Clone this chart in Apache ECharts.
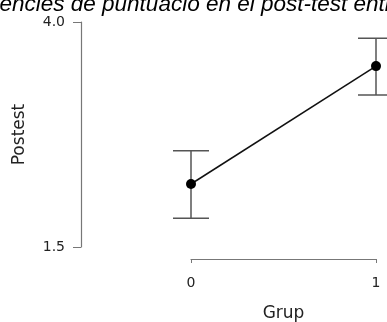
<!DOCTYPE html>
<html>
<head>
<meta charset="utf-8">
<script src="https://cdn.jsdelivr.net/npm/echarts@6/dist/echarts.min.js"></script>
<style>html,body{margin:0;padding:0;background:#fff;}#c{width:387px;height:322px;}</style>
</head>
<body>
<div id="c"></div>
<script>
var titleText = 'Diferències de puntuació en el post-test entre grups';
var groups = [0, 1];
var means = [2.20, 3.51];
var lower = [1.82, 3.19];
var upper = [2.57, 3.82];
var yTicks = [1.5, 4.0];
var xTicks = [0, 1];

var chart = echarts.init(document.getElementById('c'), null, {renderer: 'canvas'});
var lineData = groups.map(function (g, i) { return [g, means[i]]; });
var errData = groups.map(function (g, i) { return [g, lower[i], upper[i]]; });

chart.setOption({
  animation: false,
  graphic: [{
    type: 'text', left: -48, top: -7,
    style: {text: titleText, font: 'italic 22.5px "Liberation Sans", Arial, sans-serif', fill: '#000'}
  }],
  grid: {left: 191, right: 11, top: 22, bottom: 75, outerBoundsMode: 'none', containLabel: false},
  xAxis: {
    type: 'value', min: 0, max: 1, offset: 12,
    name: 'Grup', nameLocation: 'middle', nameGap: 46,
    nameTextStyle: {fontSize: 17, color: '#222', fontFamily: 'DejaVu Sans'},
    axisLine: {onZero: false, lineStyle: {color: '#777', width: 1.2}},
    axisTick: {show: true, length: 4, customValues: xTicks, lineStyle: {color: '#777'}},
    axisLabel: {customValues: xTicks, margin: 17, fontSize: 14, color: '#222', fontFamily: 'DejaVu Sans'},
    splitLine: {show: false}
  },
  yAxis: {
    type: 'value', min: 1.5, max: 4.0, offset: 110,
    name: 'Postest', nameLocation: 'middle', nameGap: 53,
    nameTextStyle: {fontSize: 17, color: '#222', fontFamily: 'DejaVu Sans'},
    axisLine: {show: true, onZero: false, lineStyle: {color: '#777', width: 1.2}},
    axisTick: {show: true, length: 8, customValues: yTicks, lineStyle: {color: '#777'}},
    axisLabel: {customValues: yTicks, margin: 16, fontSize: 14, color: '#222', fontFamily: 'DejaVu Sans',
      formatter: function (v) { return v.toFixed(1); }},
    splitLine: {show: false}
  },
  series: [{
    type: 'custom', clip: false, data: errData,
    renderItem: function (params, api) {
      var x = api.value(0);
      var lo = api.coord([x, api.value(1)]);
      var hi = api.coord([x, api.value(2)]);
      var w = 18;
      var st = {stroke: '#555', lineWidth: 1.5};
      return {type: 'group', children: [
        {type: 'line', shape: {x1: lo[0], y1: lo[1], x2: hi[0], y2: hi[1]}, style: st},
        {type: 'line', shape: {x1: lo[0] - w, y1: lo[1], x2: lo[0] + w, y2: lo[1]}, style: st},
        {type: 'line', shape: {x1: hi[0] - w, y1: hi[1], x2: hi[0] + w, y2: hi[1]}, style: st}
      ]};
    }
  }, {
    type: 'line', data: lineData, symbol: 'circle', symbolSize: 10,
    itemStyle: {color: '#000'}, lineStyle: {color: '#111', width: 1.5}, clip: false
  }]
});
</script>
</body>
</html>
